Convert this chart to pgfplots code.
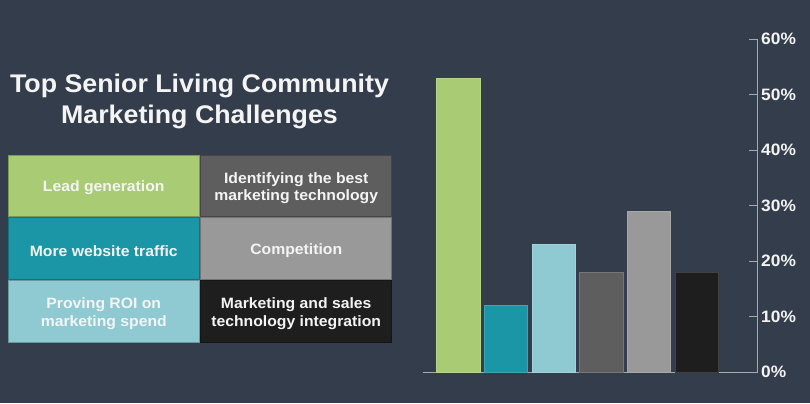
\documentclass[border=0pt]{standalone}
\usepackage{pgfplots}
\pgfplotsset{compat=1.18}
\usepackage{fontspec}
\setmainfont{Liberation Sans}[FakeStretch=1.05]
\definecolor{bg}{HTML}{343D4C}
\definecolor{cgreen}{HTML}{A8CB74}
\definecolor{cteal}{HTML}{1B96A6}
\definecolor{clblue}{HTML}{8FCAD3}
\definecolor{cdgray}{HTML}{5E5E5E}
\definecolor{cgray}{HTML}{999999}
\definecolor{cblack}{HTML}{1E1E1E}
\definecolor{axisc}{HTML}{A6AAB0}
\definecolor{txt}{HTML}{F4F4F4}
\newcommand\cell[6]{%
  \fill[#5, draw=#5!75!black, line width=0.6bp] (#1,#2) rectangle (#3,#4);
  \node[align=center, text=txt, inner sep=0pt, yshift=-2.5bp,
        font=\fontsize{15bp}{17.5bp}\selectfont\bfseries]
        at ({(#1+#3)/2},{(#2+#4)/2}) {#6};}
\begin{document}
\begin{tikzpicture}[x=1bp,y=1bp]
\useasboundingbox (0,0) rectangle (810,403);
\fill[bg] (0,0) rectangle (810,403);
\node[anchor=base, text=txt, inner sep=0pt, font=\fontsize{25.5bp}{31bp}\selectfont\bfseries] at (199.5,311) {Top Senior Living Community};
\node[anchor=base, text=txt, inner sep=0pt, font=\fontsize{25.5bp}{31bp}\selectfont\bfseries] at (199.5,280) {Marketing Challenges};
\cell{8.3}{248}{199.3}{187}{cgreen}{Lead generation}
\cell{200.7}{248}{391.7}{187}{cdgray}{Identifying the best\\marketing technology}
\cell{8.3}{185.3}{199.3}{124}{cteal}{More website traffic}
\cell{200.7}{185.3}{391.7}{124}{cgray}{Competition}
\cell{8.3}{122.3}{199.3}{61}{clblue}{Proving ROI on\\marketing spend}
\cell{200.7}{122.3}{391.7}{61}{cblack}{Marketing and sales\\technology integration}
\begin{axis}[at={(422.7bp,30.7bp)}, anchor=south west, scale only axis,
  width=335bp, height=333bp,
  xmin=-0.746, xmax=6.277, ymin=0, ymax=60,
  axis x line=bottom, axis y line=right,
  axis line style={-, draw=axisc, line width=1bp},
  xtick=\empty, ytick={0,10,...,60},
  yticklabels={0\%,10\%,20\%,30\%,40\%,50\%,60\%},
  tick align=inside, major tick length=9bp,
  tick style={draw=axisc, line width=0.8bp},
  yticklabel style={text=txt, font=\fontsize{16.5bp}{20bp}\selectfont\bfseries},
  ybar, bar width=43.3bp, bar shift=0pt, clip=false]
\addplot[fill=cgreen, draw=cgreen!85!white, line width=0.8bp] coordinates {(0,53)};
\addplot[fill=cteal, draw=cteal!85!white, line width=0.8bp] coordinates {(1,12)};
\addplot[fill=clblue, draw=clblue!85!white, line width=0.8bp] coordinates {(2,23)};
\addplot[fill=cdgray, draw=cdgray!85!white, line width=0.8bp] coordinates {(3,18)};
\addplot[fill=cgray, draw=cgray!85!white, line width=0.8bp] coordinates {(4,29)};
\addplot[fill=cblack, draw=cblack!85!white, line width=0.8bp] coordinates {(5,18)};
\end{axis}
\end{tikzpicture}
\end{document}
